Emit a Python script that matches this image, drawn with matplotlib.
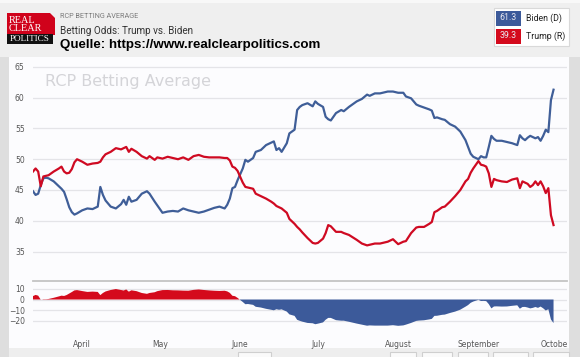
import matplotlib
matplotlib.use('Agg')
import matplotlib.pyplot as plt
import matplotlib.dates as mdates
from matplotlib.patches import Rectangle, Polygon
import numpy as np
import pandas as pd

# ---------------- data ----------------
start_date = '2020-03-13'
days = [0, 1, 2, 3, 4, 5, 6, 8, 10, 11, 12, 13, 14, 15, 16, 17, 19, 21, 23, 25,
        26, 27, 28, 30, 32, 34, 35, 36, 37, 38, 40, 42, 44, 45, 47, 48, 50, 52, 54, 56,
        58, 60, 62, 64, 66, 68, 70, 72, 74, 75, 76, 77, 78, 79, 81, 82, 83, 85, 86, 88,
        90, 92, 93, 94, 95, 96, 98, 99, 101, 102, 103, 104, 106, 108, 109, 110, 112, 113, 114, 115,
        117, 119, 120, 122, 125, 127, 129, 130, 132, 134, 136, 137, 139, 141, 143, 144, 146, 148, 149, 151,
        153, 154, 155, 156, 158, 159, 161, 163, 165, 167, 168, 169, 170, 172, 173, 174, 175, 176, 177, 178,
        179, 181, 183, 185, 187, 188, 189, 190, 191, 192, 193, 194, 195, 196, 197, 198, 199, 200, 201]
biden = [44.8, 44.2, 44.4, 45.8, 46.9, 47.0, 46.9, 46.4, 45.6, 45.2, 44.7, 43.5, 42.2, 41.4, 41.0, 41.2, 41.7, 42.0, 41.9, 42.3,
         45.5, 44.2, 43.3, 42.3, 42.0, 42.7, 43.4, 42.6, 43.9, 43.1, 43.4, 44.4, 44.8, 44.4, 43.1, 42.5, 41.3, 41.5, 41.6, 41.5,
         42.0, 41.7, 41.5, 41.3, 41.5, 41.8, 42.1, 42.3, 42.0, 42.6, 43.6, 45.3, 45.5, 46.6, 48.5, 49.9, 49.6, 50.2, 51.2, 51.5,
         52.3, 52.7, 52.9, 51.5, 51.8, 51.2, 52.6, 54.2, 54.8, 58.0, 58.5, 58.8, 59.1, 58.6, 59.4, 59.0, 58.5, 56.9, 56.5, 56.3,
         57.5, 58.0, 57.8, 58.5, 59.4, 59.8, 60.5, 60.3, 60.7, 60.7, 60.9, 61.0, 61.0, 60.8, 60.8, 60.2, 59.9, 58.9, 58.7, 58.4,
         58.1, 57.9, 56.7, 56.8, 56.5, 56.4, 55.7, 55.3, 54.5, 53.1, 52.0, 50.9, 50.4, 50.0, 50.5, 50.3, 50.3, 52.0, 53.8, 53.3,
         53.0, 53.0, 52.8, 52.6, 52.3, 53.9, 53.4, 53.1, 53.5, 53.8, 53.6, 53.4, 53.6, 53.0, 53.8, 54.8, 54.4, 59.6, 61.3]
trump = [48.0, 48.5, 48.0, 45.6, 47.2, 47.3, 47.4, 48.0, 48.5, 48.8, 48.0, 47.7, 47.8, 48.4, 49.5, 50.0, 49.6, 49.1, 49.3, 49.4,
         49.6, 50.3, 50.8, 51.2, 51.8, 51.6, 51.8, 52.0, 51.2, 51.7, 51.2, 50.5, 50.1, 50.5, 49.9, 50.3, 50.1, 50.4, 50.2, 50.0,
         50.3, 49.9, 50.5, 50.7, 50.4, 50.3, 50.3, 50.3, 50.2, 50.2, 49.8, 48.8, 48.6, 48.1, 46.2, 45.5, 45.4, 45.2, 44.4, 44.0,
         43.6, 43.1, 42.8, 42.4, 42.2, 42.0, 41.3, 40.3, 39.5, 39.0, 38.6, 38.1, 37.2, 36.4, 36.3, 36.4, 37.1, 38.0, 39.3, 39.1,
         38.2, 38.2, 38.0, 37.7, 36.9, 36.3, 36.0, 36.1, 36.3, 36.3, 36.5, 36.6, 37.0, 36.2, 36.6, 36.7, 38.0, 38.9, 39.0, 39.0,
         39.5, 39.8, 41.4, 41.6, 42.2, 42.3, 43.1, 44.0, 45.0, 46.4, 46.8, 47.8, 48.5, 49.7, 49.1, 49.0, 48.8, 47.7, 45.5, 46.8,
         46.6, 46.4, 46.3, 46.7, 46.9, 45.3, 46.4, 46.2, 46.0, 45.5, 45.8, 46.4, 45.8, 46.4, 45.6, 44.5, 45.3, 40.9, 39.3]

month_ticks = ['2020-04-01', '2020-05-01', '2020-06-01', '2020-07-01',
               '2020-08-01', '2020-09-01', '2020-10-01']
month_labels = ['April', 'May', 'June', 'July', 'August', 'September', 'October']
main_yticks = [35, 40, 45, 50, 55, 60, 65]
spread_yticks = [-20, -10, 0, 10]
latest = {'Biden (D)': 61.3, 'Trump (R)': 39.3}

BLUE = '#3f5e98'
RED = '#cf0a22'
FILL_BLUE = '#3c5a9a'
FILL_RED = '#d40a1c'

dates = pd.Timestamp(start_date) + pd.to_timedelta(days, unit='D')
b = np.array(biden)
t = np.array(trump)
spread = t - b

W, H = 580, 357
fig = plt.figure(figsize=(W / 100, H / 100), dpi=100)
fig.patch.set_facecolor('#dedede')


def rect(x0, y0, x1, y1):
    return [x0 / W, 1 - y1 / H, (x1 - x0) / W, (y1 - y0) / H]


bg = fig.add_axes([0, 0, 1, 1])
bg.set_xlim(0, W)
bg.set_ylim(H, 0)
bg.axis('off')

# header and panels
bg.add_patch(Rectangle((0, 0), W, 57, fc='#efefef', ec='none'))
bg.add_patch(Rectangle((0, 0), W, 2.5, fc='#f8f8f8', ec='none'))
bg.add_patch(Rectangle((9, 57), 560, 291, fc='#fcfcfe', ec='none'))
bg.add_patch(Rectangle((9, 348), 560, 9, fc='#eeeeee', ec='none'))
for x0, x1 in [(238, 271), (390, 416), (422, 452), (458, 488), (493, 528), (533, 569)]:
    bg.add_patch(Rectangle((x0, 351.5), x1 - x0, 8, fc='#fafafa', ec='#cfcfcf', lw=0.8))

# logo
bg.add_patch(Polygon([(7, 13), (50, 13), (55, 18), (55, 35), (7, 35)], closed=True,
                     fc='#d0021b', ec='none'))
bg.add_patch(Rectangle((7, 33.5), 46, 10, fc='#111111', ec='none'))
serif = ['Liberation Serif', 'DejaVu Serif']
bg.text(8.5, 20.5, 'REAL', color='white', fontsize=7.4, family=serif, va='center', ha='left')
bg.text(8.5, 28.5, 'CLEAR', color='white', fontsize=7.4, family=serif, va='center', ha='left')
bg.text(30, 38.7, 'POLITICS', color='white', fontsize=6.6, family=serif, va='center', ha='center')

# header texts
bg.text(60, 16, 'RCP BETTING AVERAGE', color='#7a7a7a', fontsize=5.2, family='Roboto',
        va='center', ha='left')
bg.text(60.5, 30.5, 'Betting Odds: Trump vs. Biden', color='#333333', fontsize=7.1,
        family='Roboto', va='center', ha='left')
bg.text(60.5, 45, 'Quelle: https://www.realclearpolitics.com', color='black', fontsize=9.6,
        family='Liberation Sans', fontweight='bold', va='center', ha='left')

# legend box
bg.add_patch(Rectangle((494, 8), 75, 38, fc='white', ec='#d9d9d9', lw=0.8))
for i, (name, val) in enumerate(latest.items()):
    col = FILL_BLUE if i == 0 else FILL_RED
    yc = 18 + i * 18
    bg.add_patch(Rectangle((496, yc - 7.5), 25, 15, fc=col, ec='none'))
    bg.text(508.5, yc, f'{val:.1f}', color='#e8e8f0', fontsize=6.3, family='Roboto',
            va='center', ha='center')
    bg.text(526, yc, name, color='#222222', fontsize=6.3, family='Roboto',
            va='center', ha='left')

x_left = pd.Timestamp(start_date)
x_right = pd.Timestamp(start_date) + pd.Timedelta(days=206.2)

# ---------------- main chart ----------------
ax = fig.add_axes(rect(33, 62, 567, 270))
ax.set_facecolor('none')
ax.plot(dates, b, color=BLUE, lw=1.6, solid_joinstyle='round', zorder=3)
ax.plot(dates, t, color=RED, lw=1.6, solid_joinstyle='round', zorder=3)
ax.set_xlim(x_left, x_right)
ax.set_ylim(32.0, 65.8)
ax.set_yticks(main_yticks)
ax.grid(axis='y', color='#e4e4e8', lw=0.9)
ax.set_axisbelow(True)
ax.set_xticks([])
for s in ax.spines.values():
    s.set_visible(False)
ax.tick_params(axis='y', length=0, pad=6, labelsize=5.5, labelcolor='#555555')
ax.text(0.022, 0.905, 'RCP Betting Average', transform=ax.transAxes, fontsize=11.5,
        color='#d4d4d8', family='DejaVu Sans', va='center', ha='left')

# ---------------- spread chart ----------------
ax2 = fig.add_axes(rect(33, 281, 567, 330))
ax2.set_facecolor('none')
ax2.fill_between(dates, spread, 0, where=spread >= 0, interpolate=True,
                 color=FILL_RED, lw=0, zorder=3)
ax2.fill_between(dates, spread, 0, where=spread <= 0, interpolate=True,
                 color=FILL_BLUE, lw=0, zorder=3)
ax2.set_xlim(x_left, x_right)
ax2.set_ylim(-28.5, 17.3)
ax2.set_yticks(spread_yticks)
ax2.grid(axis='y', color='#e4e4e8', lw=0.9)
ax2.set_axisbelow(True)
for s in ax2.spines.values():
    s.set_visible(False)
ax2.axhline(17.3, color='#c4c4c4', lw=1.3, clip_on=False)
ax2.set_xticks(pd.to_datetime(month_ticks))
ax2.set_xticklabels(month_labels)
ax2.tick_params(axis='y', length=0, pad=6, labelsize=5.5, labelcolor='#555555')
ax2.tick_params(axis='x', length=0, pad=7, labelsize=5.5, labelcolor='#555555')
clip_rect = Rectangle((0, 0), 567, H, transform=bg.transData)
for lab in ax2.get_xticklabels():
    lab.set_clip_path(clip_rect)

fig.savefig('out.png', dpi=100, facecolor=fig.get_facecolor())
